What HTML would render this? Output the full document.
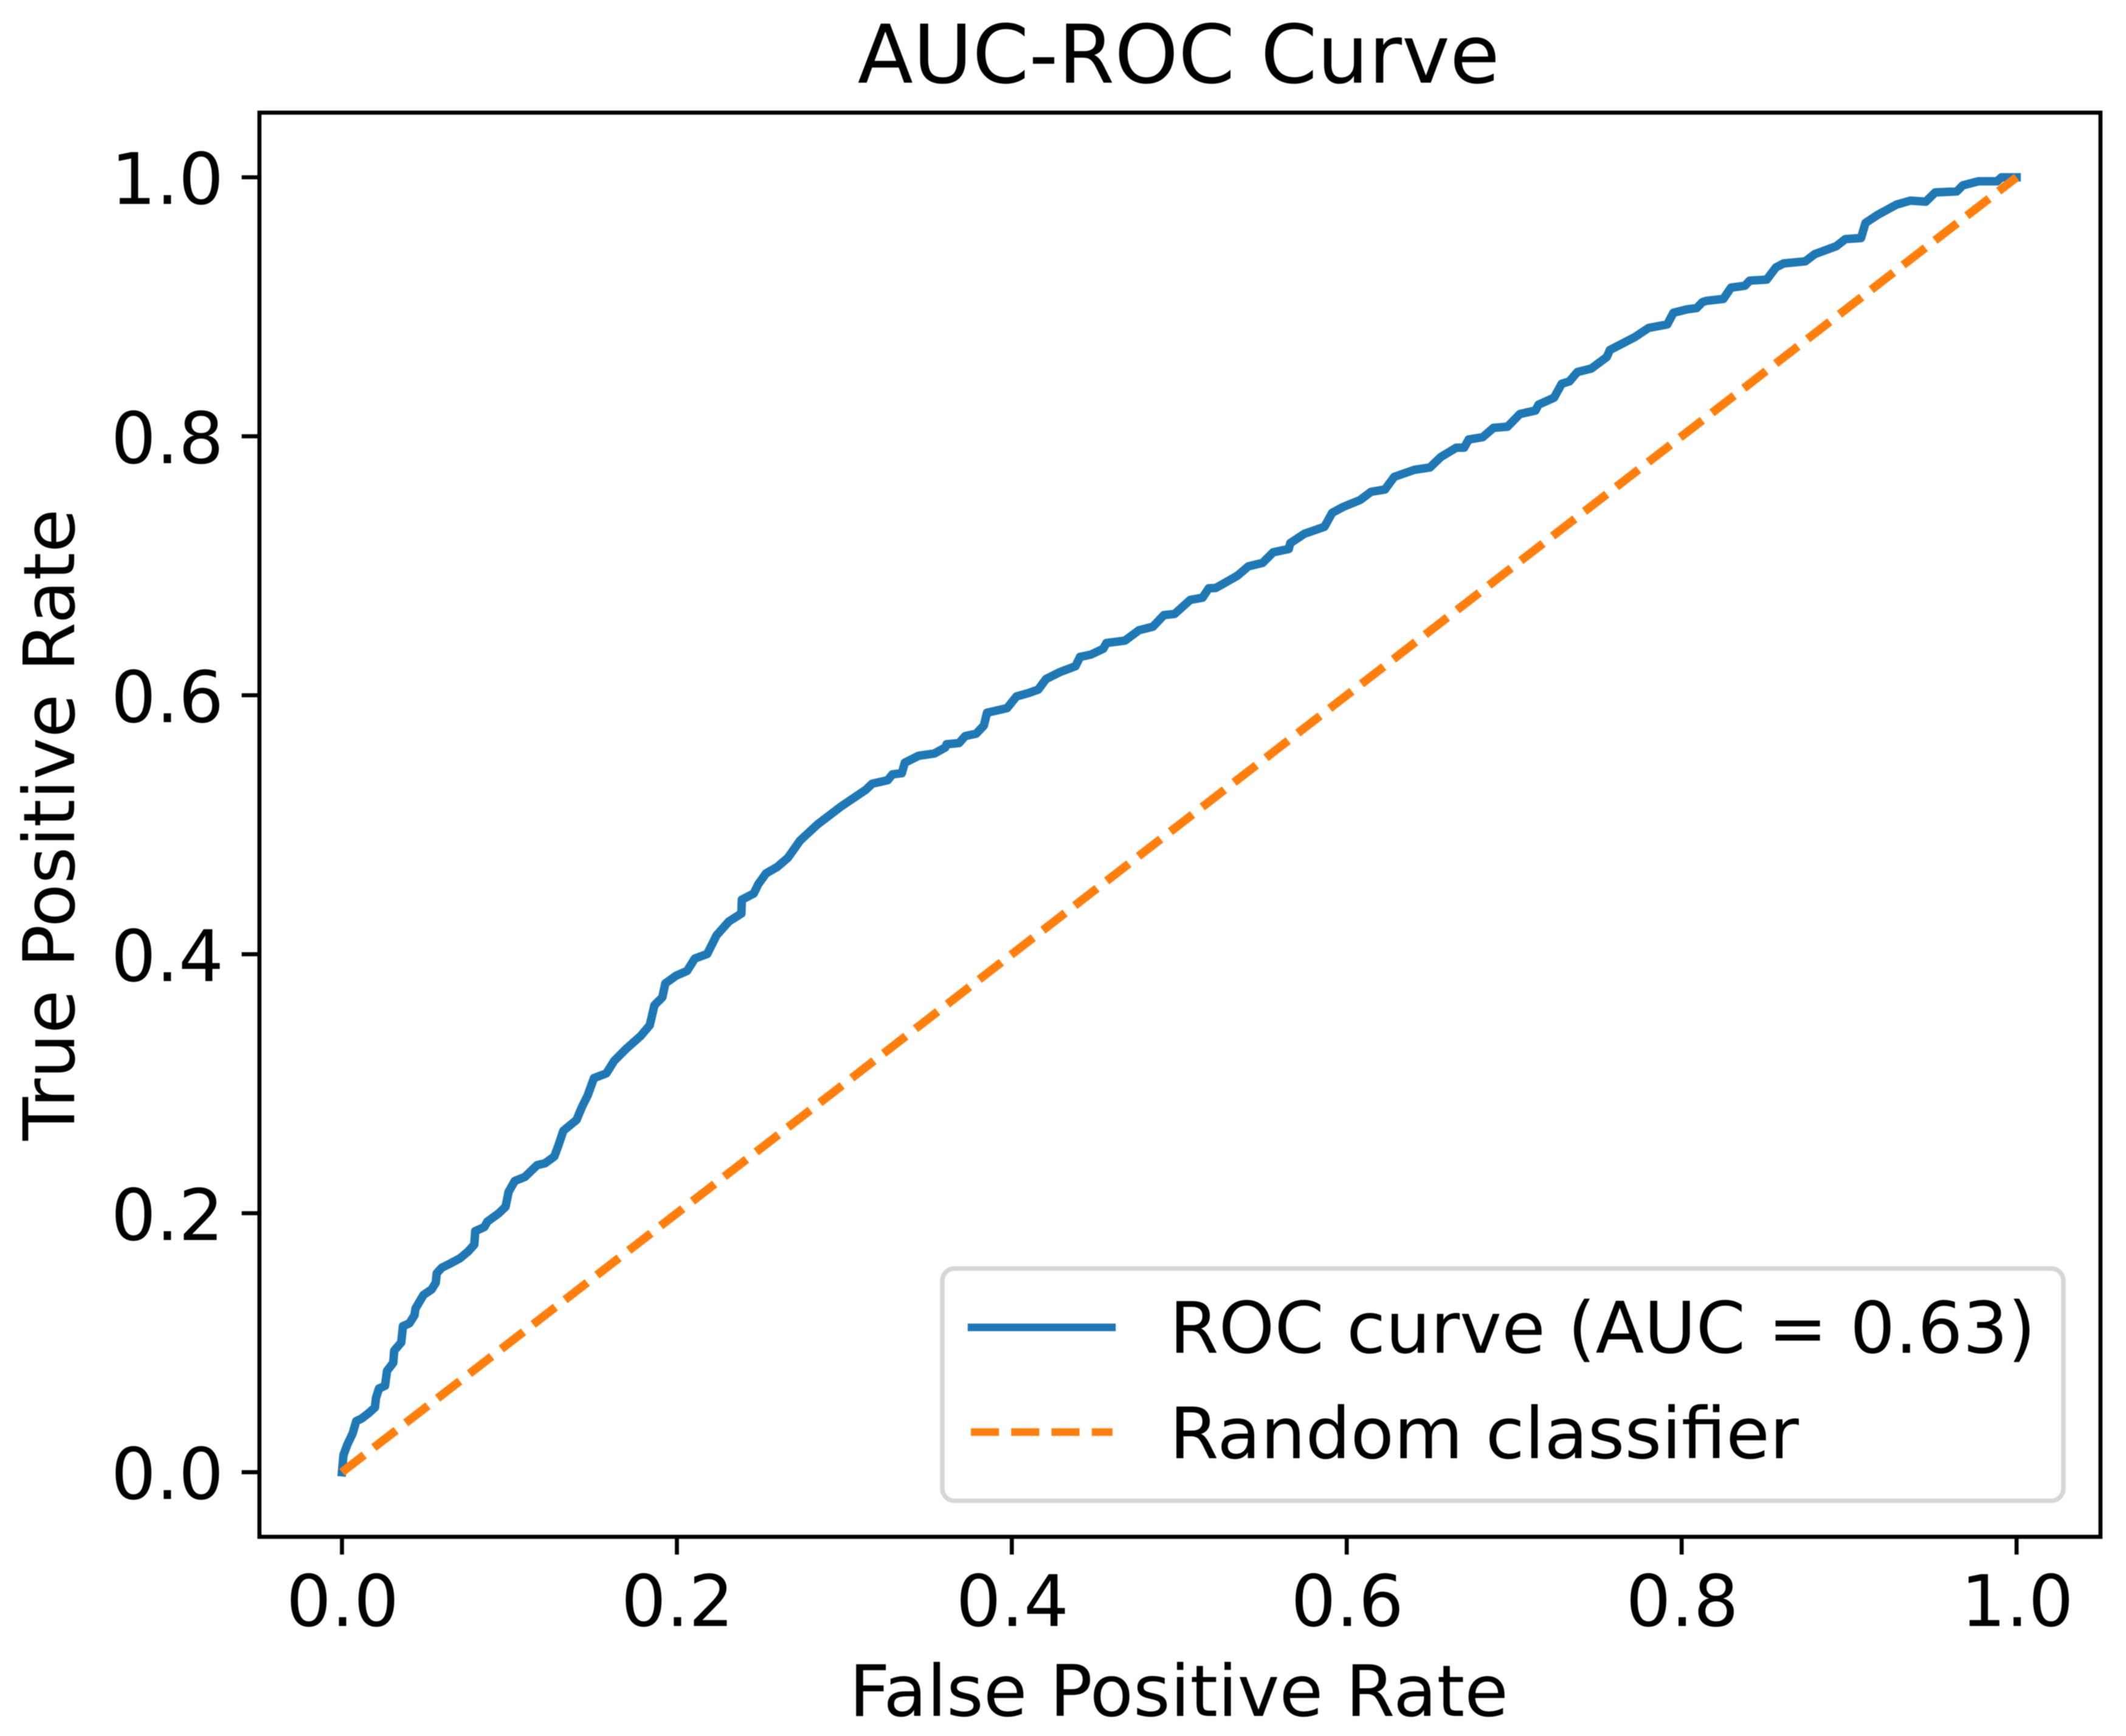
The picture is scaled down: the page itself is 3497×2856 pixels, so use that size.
<!DOCTYPE html>
<html lang="en">
<head>
<meta charset="utf-8">
<title>AUC-ROC Curve</title>
<style>
html,body{margin:0;padding:0;background:#fff;width:3497px;height:2856px;overflow:hidden}
svg{display:block;filter:blur(0.9px)}
text{font-family:"DejaVu Sans","Liberation Sans",sans-serif;fill:#000}
</style>
</head>
<body>
<svg id="chart" xmlns="http://www.w3.org/2000/svg" width="3497" height="2856" viewBox="0 0 3497 2856">
  <rect x="0" y="0" width="3497" height="2856" fill="#ffffff"/>
  <g id="marks"></g>
  <rect x="426.7" y="185.3" width="3028.3" height="2343" fill="none" stroke="#000" stroke-width="6.67"/>
  <g id="xticks"></g>
  <g id="yticks"></g>
  <text x="1938.8" y="136" font-size="133.3" text-anchor="middle">AUC-ROC Curve</text>
  <text x="1938.8" y="2823" font-size="116.67" text-anchor="middle">False Positive Rate</text>
  <text transform="translate(122,1356.8) rotate(-90)" x="0" y="0" font-size="116.67" text-anchor="middle">True Positive Rate</text>
  <g>
    <rect x="1550" y="2087" width="1844" height="382" rx="20" ry="20" fill="#ffffff" fill-opacity="0.8" stroke="#cccccc" stroke-opacity="0.8" stroke-width="7.5"/>
    <line x1="1598" y1="2183.7" x2="1829" y2="2183.7" stroke="#1f77b4" stroke-width="12.5" stroke-linecap="square"/>
    <text x="1923.6" y="2225.7" font-size="116.67">ROC curve (AUC = 0.63)</text>
    <line x1="1597" y1="2356" x2="1830" y2="2356" stroke="#ff7f0e" stroke-width="12.5" stroke-dasharray="46.25 20"/>
    <text x="1923.6" y="2399" font-size="116.67">Random classifier</text>
  </g>
</svg>
<script>
const fpr = [0,.0009,.0033,.0064,.0085,.0118,.016,.0197,.0203,.0221,.0257,.0269,.0306,.0312,.0354,.0364,.0402,.0433,.0439,.0487,.0535,.056,.0566,.0596,.0644,.0705,.0753,.079,.0796,.085,.0868,.0935,.0977,.0995,.1032,.1092,.1165,.1213,.1268,.1292,.1322,.1401,.1431,.1467,.1505,.1579,.1625,.1699,.1783,.1838,.1866,.1913,.1931,.1996,.2061,.2107,.2181,.2237,.2311,.2385,.2388,.2459,.2486,.2533,.2598,.2663,.2735,.2841,.2979,.313,.3166,.3259,.3287,.3343,.3361,.3444,.3537,.3602,.3611,.3685,.3722,.3787,.3833,.3852,.3972,.4028,.4102,.4158,.4204,.4287,.438,.4407,.4472,.4546,.4565,.4676,.4759,.4843,.4908,.4972,.5065,.5139,.5176,.5219,.5348,.5413,.5497,.5561,.5654,.5663,.5747,.5867,.5913,.5978,.608,.6145,.6228,.6284,.6404,.6497,.6562,.6654,.6701,.6728,.6812,.6876,.696,.7034,.7127,.7145,.7238,.7284,.733,.7377,.746,.7553,.7571,.7719,.7803,.7914,.7951,.8034,.809,.8123,.8148,.8249,.8295,.8378,.8406,.8508,.8563,.8609,.8738,.8794,.8923,.8978,.9071,.9098,.9172,.9283,.9366,.9458,.9514,.9643,.9679,.9772,.9883,.991,1];
const tpr = [0,.0133,.0216,.03,.0394,.0415,.0457,.05,.0573,.0646,.0667,.0782,.0845,.0939,.1002,.1128,.1149,.1212,.1264,.1369,.1411,.1463,.1537,.1579,.161,.1652,.1704,.1757,.1862,.1893,.1935,.1998,.205,.2165,.2249,.228,.2371,.2386,.2438,.2522,.2637,.2721,.2815,.2909,.3044,.308,.3176,.3272,.3368,.3452,.3607,.3667,.3775,.3835,.3871,.3967,.4002,.4146,.4254,.4314,.4422,.4469,.4541,.4625,.4673,.4745,.4877,.5004,.514,.5272,.5317,.5344,.5389,.5398,.5479,.5533,.555,.5596,.5622,.5631,.5685,.5703,.5766,.5865,.5901,.5991,.6018,.6044,.6125,.6179,.6224,.6296,.6314,.6359,.6404,.6422,.6502,.653,.6619,.6628,.6736,.6754,.6826,.6829,.6924,.6996,.7022,.7104,.713,.7175,.7247,.7301,.7409,.7454,.7508,.7571,.7589,.7687,.7741,.7759,.784,.7912,.7912,.7975,.7993,.8065,.8074,.8172,.8199,.8244,.8298,.8406,.8424,.8496,.8523,.8612,.8666,.8765,.8837,.8864,.8954,.8981,.899,.9035,.9046,.9061,.9148,.9163,.9202,.921,.9304,.9335,.9351,.9406,.9468,.9523,.9531,.9648,.9711,.9789,.982,.9812,.9883,.9891,.9938,.9969,.9969,1,1];
const randomFpr = [0,1];
const randomTpr = [0,1];
const xTickValues = [0,0.2,0.4,0.6,0.8,1];
const yTickValues = [0,0.2,0.4,0.6,0.8,1];
const xTickLabels = ["0.0","0.2","0.4","0.6","0.8","1.0"];
const yTickLabels = ["0.0","0.2","0.4","0.6","0.8","1.0"];

const NS = "http://www.w3.org/2000/svg";
function xScale(v){ return 562.5 + v * 2754.5; }
function yScale(v){ return 2422 - v * 2130.3; }
function pathFrom(xs, ys){
  return xs.map(function(x,i){ return (i ? "L" : "M") + xScale(x).toFixed(2) + " " + yScale(ys[i]).toFixed(2); }).join(" ");
}

const marks = document.getElementById("marks");
const roc = document.createElementNS(NS, "path");


roc.setAttribute("d", pathFrom(fpr, tpr));
roc.setAttribute("fill", "none");
roc.setAttribute("stroke", "#1f77b4");
roc.setAttribute("stroke-width", "14");
roc.setAttribute("stroke-linejoin", "round");
roc.setAttribute("stroke-linecap", "square");
marks.appendChild(roc);

const diag = document.createElementNS(NS, "path");


diag.setAttribute("d", pathFrom(randomFpr, randomTpr));
diag.setAttribute("fill", "none");
diag.setAttribute("stroke", "#ff7f0e");
diag.setAttribute("stroke-width", "14");
diag.setAttribute("stroke-dasharray", "46.25 20");
marks.appendChild(diag);

const xG = document.getElementById("xticks");
xTickValues.forEach(function(v,i){
  const px = xScale(v);
  const t = document.createElementNS(NS, "line");
  
  
  t.setAttribute("x1", px); t.setAttribute("x2", px);
  t.setAttribute("y1", 2528.3); t.setAttribute("y2", 2557.5);
  t.setAttribute("stroke", "#000"); t.setAttribute("stroke-width", "6.67");
  xG.appendChild(t);
  const l = document.createElementNS(NS, "text");
  
  
  l.setAttribute("x", px + 1); l.setAttribute("y", 2675);
  l.setAttribute("font-size", "116.67"); l.setAttribute("text-anchor", "middle");
  l.textContent = xTickLabels[i];
  xG.appendChild(l);
});

const yG = document.getElementById("yticks");
yTickValues.forEach(function(v,i){
  const py = yScale(v);
  const t = document.createElementNS(NS, "line");
  
  
  t.setAttribute("x1", 397.5); t.setAttribute("x2", 426.7);
  t.setAttribute("y1", py); t.setAttribute("y2", py);
  t.setAttribute("stroke", "#000"); t.setAttribute("stroke-width", "6.67");
  yG.appendChild(t);
  const l = document.createElementNS(NS, "text");
  
  
  l.setAttribute("x", 368); l.setAttribute("y", py + 44);
  l.setAttribute("font-size", "116.67"); l.setAttribute("text-anchor", "end");
  l.textContent = yTickLabels[i];
  yG.appendChild(l);
});
</script>
</body>
</html>
